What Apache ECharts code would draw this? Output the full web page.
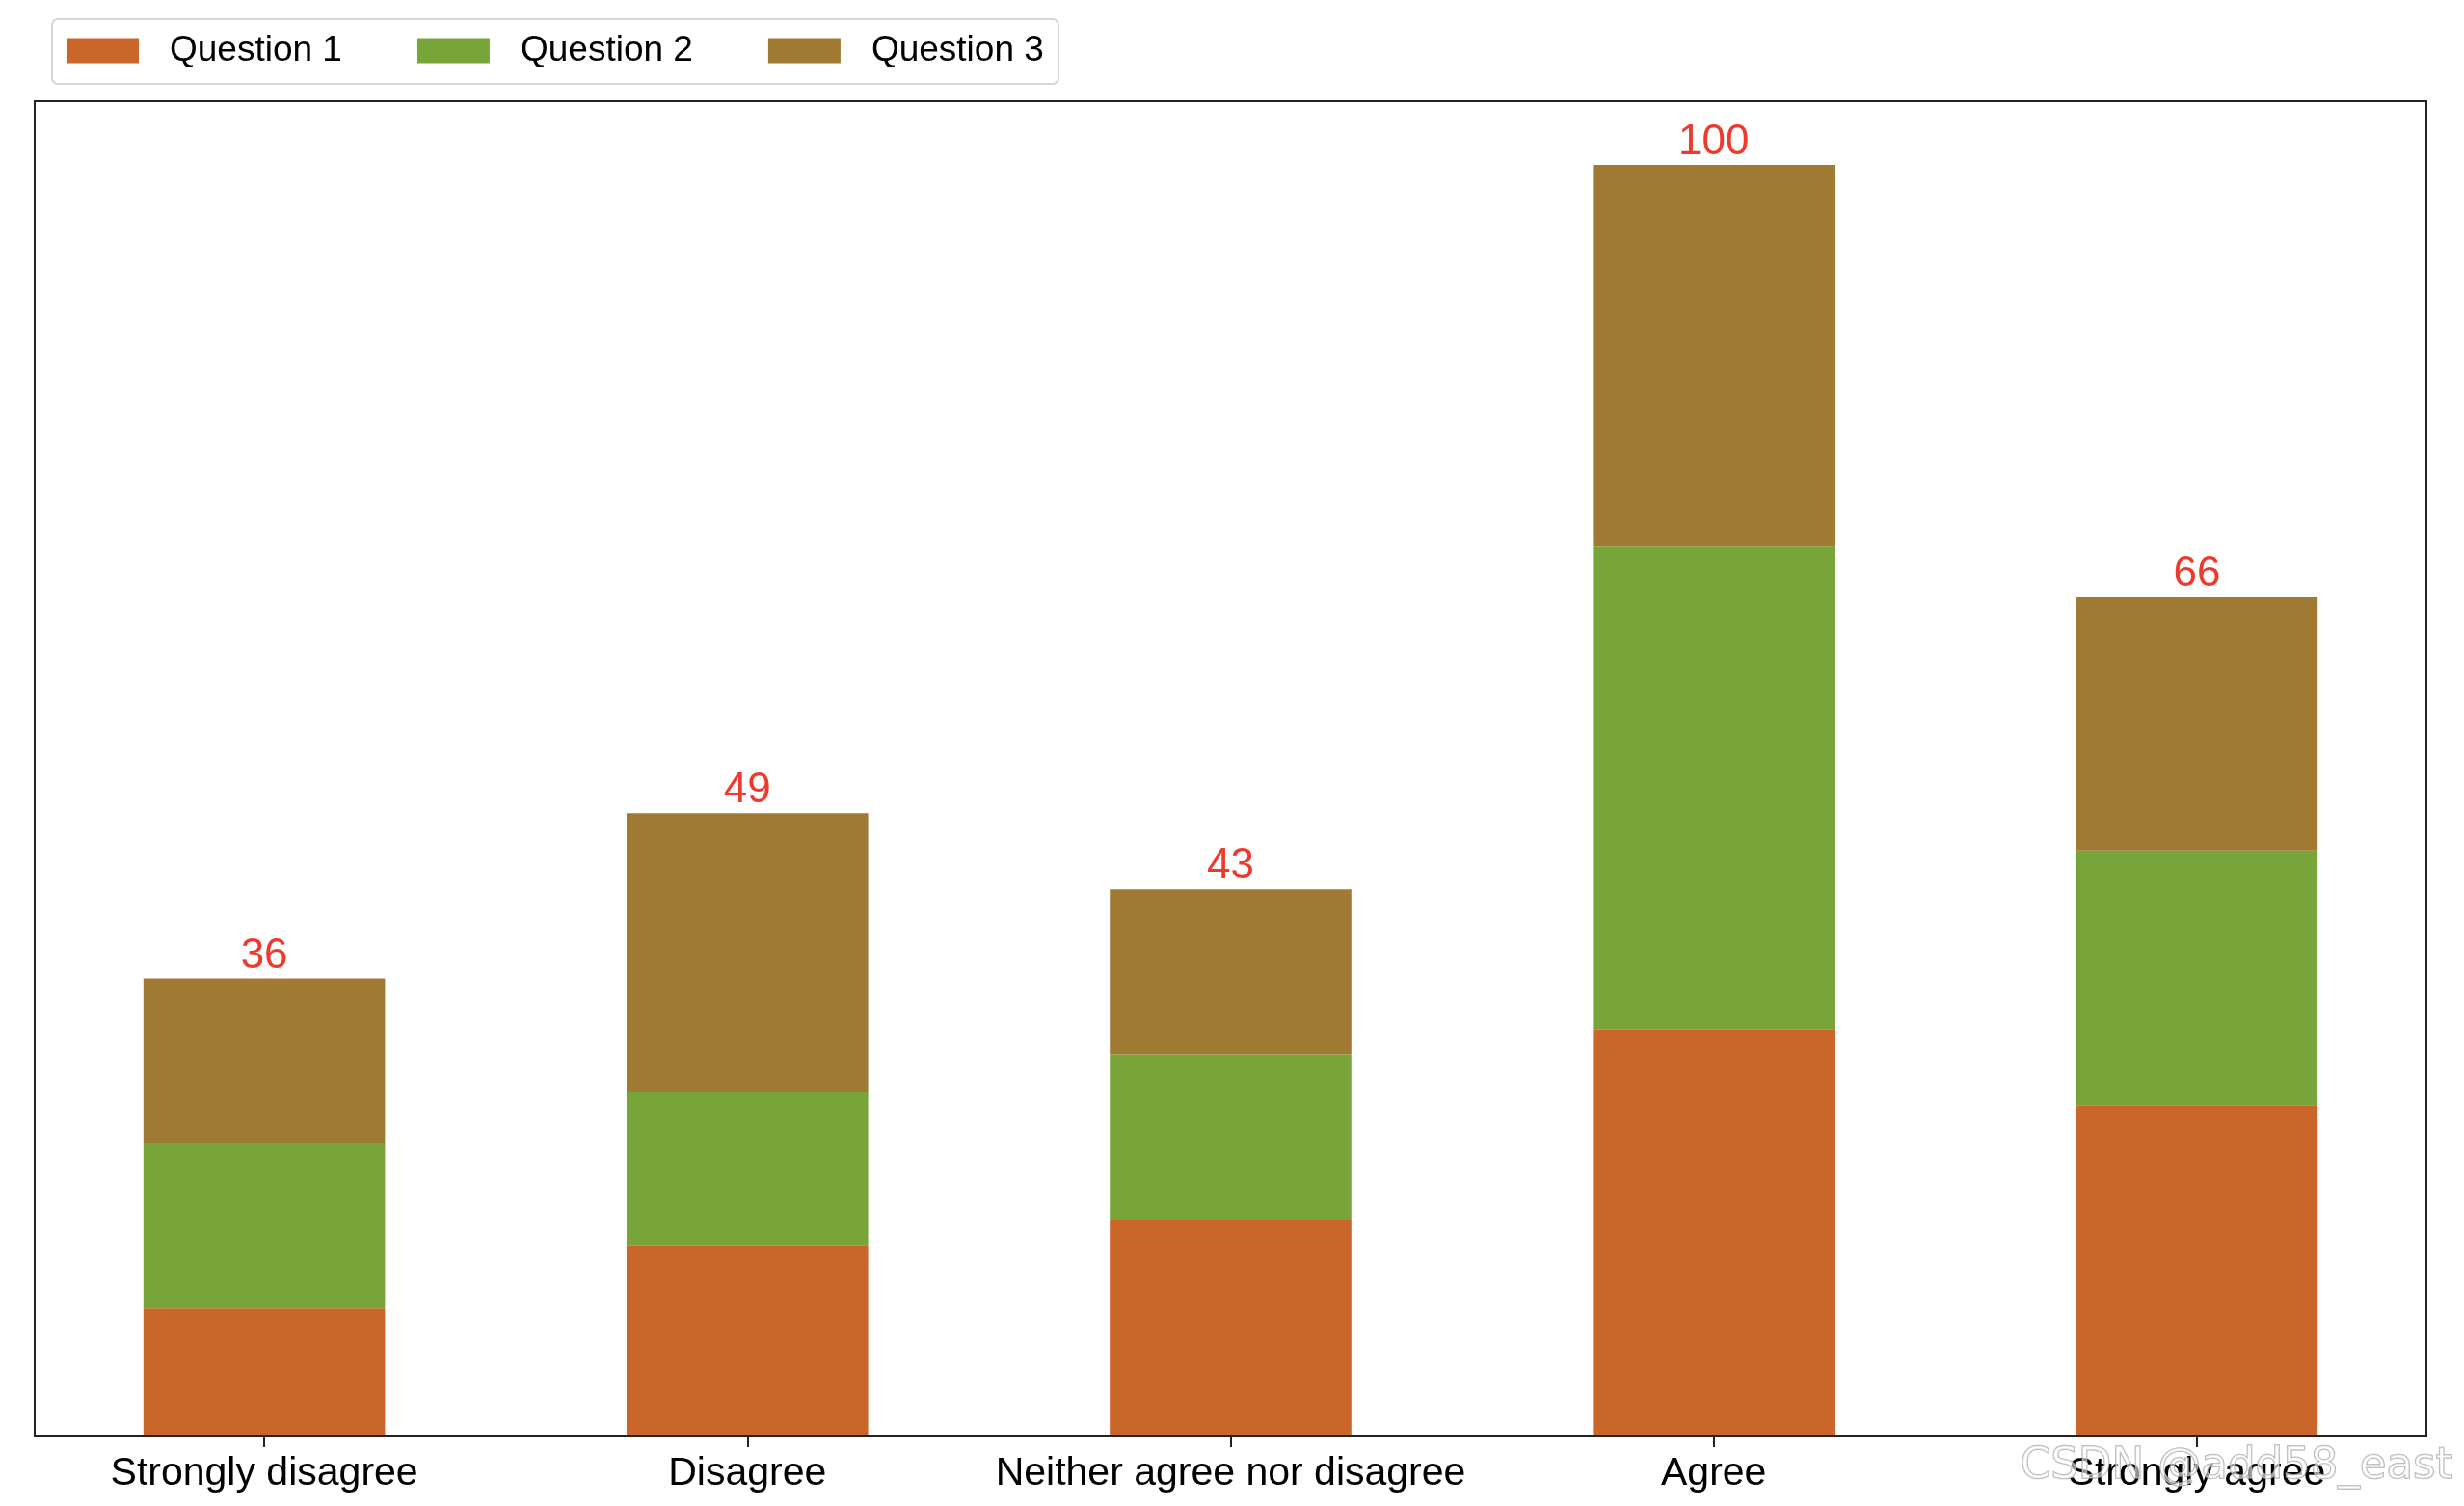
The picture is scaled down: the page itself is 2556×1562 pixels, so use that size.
<!DOCTYPE html>
<html>
<head>
<meta charset="utf-8">
<script src="https://cdn.jsdelivr.net/npm/echarts@6/dist/echarts.min.js"></script>
<style>
html,body{margin:0;padding:0;background:#fff;}
#chart{width:2556px;height:1562px;}
</style>
</head>
<body>
<div id="chart"></div>
<script>
const categories = ['Strongly disagree', 'Disagree', 'Neither agree nor disagree', 'Agree', 'Strongly agree'];
const seriesNames = ['Question 1', 'Question 2', 'Question 3'];
const question1 = [10, 15, 17, 32, 26];
const question2 = [13, 12, 13, 38, 20];
const question3 = [13, 22, 13, 30, 20];
const colors = ['#CA6629', '#78A53A', '#A07A33'];

const totals = categories.map((c, i) => question1[i] + question2[i] + question3[i]);
const allSeries = [question1, question2, question3];

const chart = echarts.init(document.getElementById('chart'));
const FONT = 'Liberation Sans, Arial, sans-serif';

// frame box (matplotlib axes) and the slightly wider category band area
const frame = { left: 36, right: 39, top: 105, bottom: 73 };
const bandPad = 12.5; // matplotlib x-limits are +-0.475 instead of +-0.5

chart.setOption({
  animation: false,
  backgroundColor: '#fff',
  legend: {
    left: 54,
    top: 20,
    icon: 'rect',
    itemWidth: 75,
    itemHeight: 26,
    itemGap: 78,
    padding: [14, 15, 16, 15],
    borderColor: '#d6d6d6',
    borderWidth: 2,
    borderRadius: 6,
    backgroundColor: '#fff',
    textStyle: { fontFamily: FONT, fontSize: 37, color: '#000', padding: [0, 0, 0, 27] },
    data: seriesNames
  },
  grid: [{
    left: frame.left - bandPad, right: frame.right - bandPad, top: frame.top, bottom: frame.bottom,
    show: false
  }, {
    left: frame.left, right: frame.right, top: frame.top, bottom: frame.bottom,
    show: true, borderColor: '#222', borderWidth: 2, backgroundColor: 'transparent', z: 3
  }],
  xAxis: [{
    type: 'category',
    gridIndex: 0,
    data: categories,
    axisLine: { show: false },
    axisTick: { show: true, alignWithLabel: true, length: 12, inside: false, lineStyle: { color: '#222', width: 2 } },
    axisLabel: { fontFamily: FONT, fontSize: 41, color: '#000', margin: 19, interval: 0 },
    splitLine: { show: false }
  }, {
    type: 'value', gridIndex: 1, show: false, min: 0, max: 1
  }],
  yAxis: [{
    type: 'value', gridIndex: 0, min: 0, max: 105, show: false,
    splitLine: { show: false }
  }, {
    type: 'value', gridIndex: 1, show: false, min: 0, max: 1
  }],
  series: allSeries.map((vals, si) => ({
    name: seriesNames[si],
    type: 'bar',
    stack: 'total',
    xAxisIndex: 0,
    yAxisIndex: 0,
    barWidth: '50%',
    itemStyle: { color: colors[si] },
    data: vals,
    label: si === allSeries.length - 1 ? {
      show: true,
      position: 'top',
      distance: 1,
      formatter: p => String(totals[p.dataIndex]),
      fontFamily: FONT, fontSize: 44, color: '#EE3A2E'
    } : { show: false }
  })),
  graphic: [{
    type: 'text',
    left: 2095,
    top: 1498,
    z: 100,
    style: {
      text: 'CSDN @add58_east',
      font: '45px "DejaVu Sans", sans-serif',
      fill: 'rgba(255,255,255,0.55)',
      stroke: 'rgba(150,150,150,0.75)',
      lineWidth: 1.5
    }
  }]
});
</script>
</body>
</html>
